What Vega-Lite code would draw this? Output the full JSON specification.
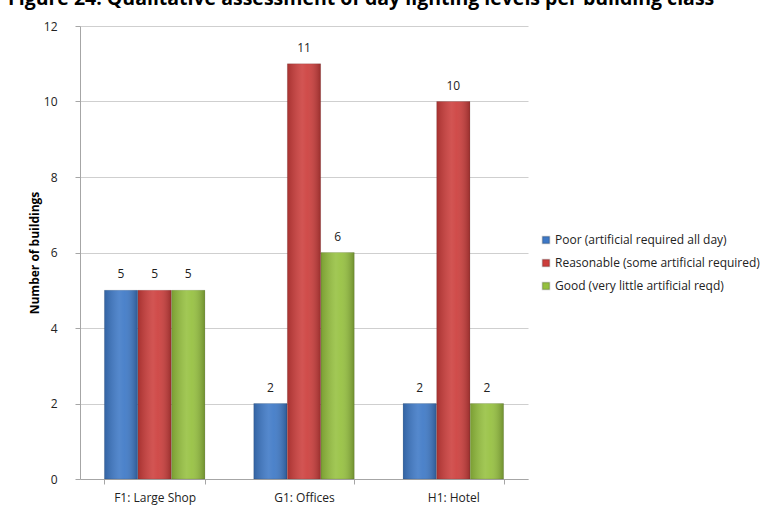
{
  "$schema": "https://vega.github.io/schema/vega-lite/v6.json",
  "width": 448,
  "height": 453,
  "autosize": "none",
  "padding": {"left": 80, "top": 26, "right": 254, "bottom": 35},
  "background": "white",
  "title": {
    "text": "Figure 24: Qualitative assessment of day lighting levels per building class",
    "anchor": "start",
    "frame": "group",
    "dx": -72,
    "dy": 4,
    "offset": 0,
    "baseline": "alphabetic",
    "font": "Open Sans",
    "fontSize": 19.5,
    "fontWeight": "bold",
    "color": "#000000"
  },
  "config": {
    "font": "Open Sans",
    "view": {"stroke": null},
    "axis": {"labelFont": "Open Sans", "titleFont": "Open Sans"}
  },
  "data": {
    "values": [
      {"class": "F1: Large Shop", "level": "Poor (artificial required all day)", "count": 5},
      {"class": "F1: Large Shop", "level": "Reasonable (some artificial required)", "count": 5},
      {"class": "F1: Large Shop", "level": "Good (very little artificial reqd)", "count": 5},
      {"class": "G1: Offices", "level": "Poor (artificial required all day)", "count": 2},
      {"class": "G1: Offices", "level": "Reasonable (some artificial required)", "count": 11},
      {"class": "G1: Offices", "level": "Good (very little artificial reqd)", "count": 6},
      {"class": "H1: Hotel", "level": "Poor (artificial required all day)", "count": 2},
      {"class": "H1: Hotel", "level": "Reasonable (some artificial required)", "count": 10},
      {"class": "H1: Hotel", "level": "Good (very little artificial reqd)", "count": 2}
    ]
  },
  "encoding": {
    "x": {
      "field": "class",
      "type": "nominal",
      "sort": null,
      "scale": {"paddingInner": 0.327, "paddingOuter": 0.1635},
      "axis": {
        "title": null,
        "labelAngle": 0,
        "labelFontSize": 12,
        "labelColor": "#222222",
        "labelPadding": 8,
        "tickBand": "extent",
        "tickSize": 5,
        "tickColor": "#a6a6a6",
        "domainColor": "#a6a6a6",
        "grid": false
      }
    },
    "xOffset": {
      "field": "level",
      "type": "nominal",
      "sort": [
        "Poor (artificial required all day)",
        "Reasonable (some artificial required)",
        "Good (very little artificial reqd)"
      ],
      "scale": {"paddingInner": 0.01}
    },
    "y": {
      "field": "count",
      "type": "quantitative",
      "scale": {"domain": [0, 12], "nice": false},
      "axis": {
        "title": "Number of buildings",
        "titleFontSize": 12,
        "titleFontWeight": "bold",
        "titleColor": "#000000",
        "titlePadding": 2,
        "values": [0, 2, 4, 6, 8, 10, 12],
        "labelFontSize": 12,
        "labelColor": "#222222",
        "labelPadding": 18,
        "tickSize": 5,
        "tickColor": "#a6a6a6",
        "domainColor": "#a6a6a6",
        "gridColor": "#cfcfcf",
        "grid": true
      }
    }
  },
  "layer": [
    {
      "mark": {"type": "bar", "stroke": "#00000033", "strokeWidth": 0.6},
      "encoding": {
        "color": {
          "field": "level",
          "type": "nominal",
          "sort": [
            "Poor (artificial required all day)",
            "Reasonable (some artificial required)",
            "Good (very little artificial reqd)"
          ],
          "scale": {"range": ["#3d78c6", "#cc3d3b", "#95c03e"]},
          "legend": {
            "title": null,
            "orient": "none",
            "legendX": 460,
            "legendY": 208,
            "symbolType": "square",
            "symbolSize": 50,
            "labelFontSize": 12,
            "labelColor": "#222222",
            "labelOffset": 3,
            "rowPadding": 9,
            "labelLimit": 300
          }
        }
      }
    },
    {
      "mark": {
        "type": "bar",
        "color": {
          "gradient": "linear",
          "x1": 0, "x2": 1, "y1": 0, "y2": 0,
          "stops": [
            {"offset": 0, "color": "rgba(0,0,0,0.18)"},
            {"offset": 0.45, "color": "rgba(255,255,255,0.12)"},
            {"offset": 0.6, "color": "rgba(255,255,255,0.08)"},
            {"offset": 1, "color": "rgba(0,0,0,0.25)"}
          ]
        }
      }
    },
    {
      "mark": {"type": "text", "dy": -9, "fontSize": 12, "color": "#222222", "baseline": "bottom"},
      "encoding": {"text": {"field": "count", "type": "quantitative"}}
    }
  ]
}
